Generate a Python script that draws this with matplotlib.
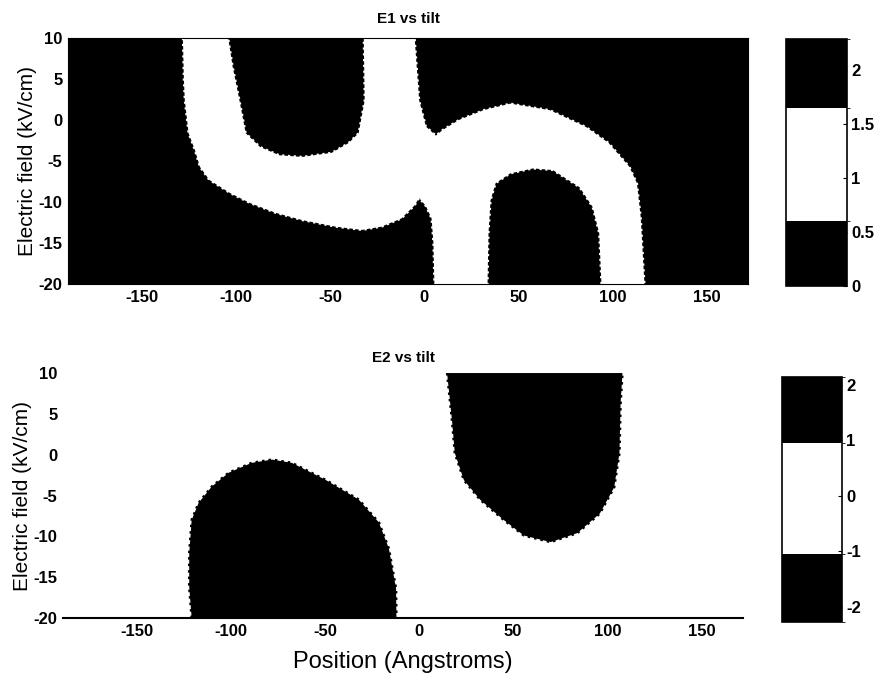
import matplotlib
matplotlib.use("Agg")
import matplotlib.pyplot as plt
from matplotlib.colors import ListedColormap, BoundaryNorm
from matplotlib.cm import ScalarMappable
import numpy as np

plt.rcParams['font.family'] = ['Liberation Sans', 'DejaVu Sans']

# E1: outline of the band where 0.6 < E1 < 1.65 (position in Angstroms, field in kV/cm)
e1_band_x = [-128, -127.5, -127, -125, -121.6, -119, -114, -103, -92.6, -79, -64.7, -47, -33,
             -22.6, -12, -5, -2.6, 1, 4, 5, 5.5, 33.7, 34.2, 35.3, 38, 45.8, 57.9, 68.4, 82.6,
             89.5, 93, 94.2, 117, 115, 113, 109, 98, 86, 66.8, 45.8, 31.6, 18.5, 10, 6.3, 1,
             -2.6, -5, -32, -31.5, -34.7, -40, -49, -64.7, -76.8, -87, -94.7, -98, -101.6, -104]
e1_band_y = [10, 5, 2.4, -1.6, -3.7, -5.7, -7.3, -8.9, -10.1, -11.3, -12.2, -13.0, -13.4,
             -13.0, -12.0, -10.4, -9.5, -10.5, -12, -15, -20, -20, -13.8, -9.8, -7.7, -6.5, -5.9,
             -6.1, -8.2, -10.6, -13.8, -20, -20, -11.8, -7.7, -5.7, -2.8, -0.85, 1.2, 2.0, 1.2,
             0, -1.2, -1.9, -0.8, 2.4, 10, 10, 2.4, -1.6, -2.8, -4.0, -4.5, -4.3, -3.3, -1.6,
             2.4, 6.5, 10]

# E2: outlines of the regions where |E2| > 1
e2_dome_x = [-120.7, -122, -122, -120.7, -117, -110, -101, -88.8, -78, -67.5, -49.5, -32,
             -21.3, -16, -12.2, -12]
e2_dome_y = [-20, -16.2, -12.1, -8.0, -5.9, -3.9, -2.2, -1.0, -0.6, -1.0, -3.1, -5.5, -8.3,
             -11.5, -16.4, -20]
e2_bowl_x = [14.9, 17.5, 19, 23.8, 32.4, 45, 55.7, 69.9, 84, 96, 103.6, 106.4, 107, 108]
e2_bowl_y = [10, 4.2, 0.2, -3.1, -5.5, -8, -9.9, -10.7, -9.6, -7.2, -4, 0.2, 6.3, 10]

# colour scales: white band in the middle, black outside
e1_levels = [0, 0.6, 1.65, 2.29]
e1_ticks = [0, 0.5, 1, 1.5, 2]
e2_levels = [-2.27, -1.05, 0.95, 2.14]
e2_ticks = [-2, -1, 0, 1, 2]

xticks = [-150, -100, -50, 0, 50, 100, 150]
yticks = [10, 5, 0, -5, -10, -15, -20]
xlim = (-189, 172)
ylim = (-20, 10)

fig = plt.figure(figsize=(8.79, 6.79), dpi=100)
ax1 = fig.add_axes([0.0774, 0.5817, 0.7736, 0.3623])
cax1 = fig.add_axes([0.8942, 0.5788, 0.0694, 0.3638])
ax2 = fig.add_axes([0.0717, 0.0898, 0.7736, 0.3608])
cax2 = fig.add_axes([0.8896, 0.0839, 0.0683, 0.3608])

tick_font = dict(fontsize=12, fontweight='bold')
grain = (0, (1, 1.6))

# E1 panel
ax1.set_facecolor('black')
ax1.fill(e1_band_x, e1_band_y, color='white', lw=0)
ax1.plot(e1_band_x, e1_band_y, color='white', lw=1.6, ls=grain)
ax1.set_title('E1 vs tilt', fontsize=11, fontweight='bold', pad=11)

# E2 panel
ax2.set_facecolor('white')
ax2.fill(e2_dome_x, e2_dome_y, color='black', lw=0)
ax2.plot(e2_dome_x, e2_dome_y, color='black', lw=1.8, ls=grain)
ax2.fill(e2_bowl_x, e2_bowl_y, color='black', lw=0)
ax2.plot(e2_bowl_x, e2_bowl_y, color='black', lw=1.8, ls=grain)
ax2.set_title('E2 vs tilt', fontsize=11, fontweight='bold', pad=8)
ax2.set_xlabel('Position (Angstroms)', fontsize=17, labelpad=9)
for side in ['top', 'left', 'right']:
    ax2.spines[side].set_visible(False)
ax2.spines['bottom'].set_linewidth(1.5)

for ax in [ax1, ax2]:
    ax.set_xlim(xlim)
    ax.set_ylim(ylim)
    ax.set_xticks(xticks)
    ax.set_yticks(yticks)
    ax.set_xticklabels([str(t) for t in xticks], **tick_font)
    ax.set_yticklabels([str(t) for t in yticks], **tick_font)
    ax.tick_params(length=0, pad=4)
    ax.set_ylabel('Electric field (kV/cm)', fontsize=15, labelpad=1)

# colour bars
for cax, levels, ticks in [(cax1, e1_levels, e1_ticks), (cax2, e2_levels, e2_ticks)]:
    cmap = ListedColormap(['black', 'white', 'black'])
    norm = BoundaryNorm(levels, cmap.N)
    sm = ScalarMappable(norm=norm, cmap=cmap)
    cb = fig.colorbar(sm, cax=cax, spacing='proportional', ticks=ticks)
    cb.ax.set_yticklabels([('%g' % t) for t in ticks], **tick_font)
    cb.ax.tick_params(length=3, direction='in', pad=3)
    cb.outline.set_linewidth(1.2)

fig.savefig('out.png', dpi=100)
